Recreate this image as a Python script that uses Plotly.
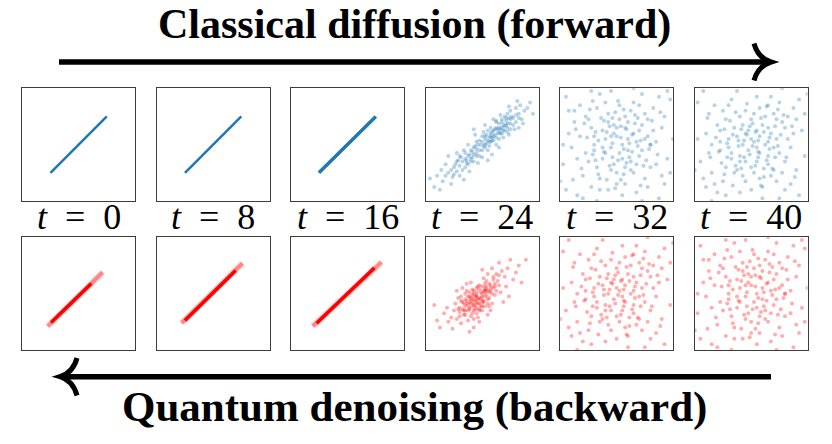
import plotly.graph_objects as go

W, H = 832, 444

# Time step labels
steps = [0, 8, 16, 24, 32, 40]

# Straight line endpoints (x, y) for the early steps, in data units
line_t0 = [(-1.0, -1.0), (1.0, 1.0)]
line_t8 = [(-1.0, -1.0), (1.0, 1.0)]
line_t16 = [(-1.02, -1.0), (1.0, 1.0)]

# Denoised bands (faint outer extent, bright core) for the early steps
red_band_t0 = [(-1.1, -1.16), (0.85, 0.76)]
red_core_t0 = [(-0.98, -1.02), (0.45, 0.36)]
red_band_t8 = [(-1.12, -1.04), (1.04, 1.08)]
red_core_t8 = [(-1.0, -0.95), (0.8, 0.82)]
red_band_t16 = [(-1.24, -1.16), (1.2, 1.12)]
red_core_t16 = [(-1.1, -1.05), (0.95, 0.92)]

# Estimated point clouds
blue_t24 = [
    (-1.2, -1.0), (-0.9, -0.6), (-0.5, -0.7), (-0.3, -0.1), (0.1, 0.2), (0.4, 0.5), (0.7, 0.4), (1.0, 0.9), (1.3, 1.1), (0.2, -0.2),
    (-0.6, -0.3), (-0.1, -0.4), (0.5, 0.8), (0.8, 1.0), (1.1, 0.7), (-1.4, -1.3), (-0.8, -1.1), (0.0, 0.3), (0.3, 0.1), (0.6, 0.2),
    (-0.4, -0.5), (-0.2, 0.1), (0.9, 0.6), (1.2, 1.3), (1.5, 1.2), (-1.0, -0.8), (-0.7, -0.9), (0.1, -0.1), (0.4, 0.3), (0.7, 0.9),
    (-1.6, -1.1), (-1.1, -1.4), (-0.3, -0.6), (0.2, 0.5), (0.5, 0.0), (0.8, 0.5), (1.0, 1.2), (1.4, 0.9), (-0.5, 0.0), (-0.9, -0.3),
    (0.0, -0.2), (0.3, 0.6), (0.6, 0.6), (0.9, 1.1), (1.2, 0.8), (-1.3, -0.7), (-0.6, -0.8), (-0.2, -0.3), (0.15, 0.05), (0.45, 0.35),
    (0.75, 0.7), (1.05, 1.0), (1.35, 1.4), (-0.75, -0.45), (-0.35, -0.25), (0.05, 0.45), (0.35, 0.15), (0.65, 1.05), (0.95, 0.35), (-1.05, -1.15),
    (-0.15, -0.65), (0.25, 0.25), (0.55, 0.55), (0.85, 0.85), (1.15, 0.55), (-1.45, -0.9), (-0.85, -0.55), (-0.45, -0.95), (0.1, 0.7), (0.6, -0.1),
    (1.6, 1.3), (1.25, 1.55), (-1.7, -1.5), (-0.25, 0.35), (0.4, 0.9), (0.75, 0.25), (1.45, 0.75), (-1.2, -0.4), (-0.65, -1.25), (0.2, -0.55),
    (-0.05, 0.0), (0.3, 0.4), (0.5, 0.25), (0.7, 0.6), (-0.4, -0.2), (-0.1, 0.15), (0.85, 0.95), (1.0, 0.55), (-0.8, -0.75), (0.0, -0.45),
    (1.7, 1.5), (-1.5, -1.6), (0.35, -0.35), (-0.3, 0.55), (0.95, 1.35), (1.3, 0.6), (-1.85, -1.2), (1.8, 1.1), (-0.55, -0.55), (0.65, 0.4),
    (-0.5, -0.4), (-0.2, -0.15), (0.1, 0.0), (0.35, 0.45), (0.6, 0.45), (0.9, 0.75), (-0.7, -0.6), (-0.35, -0.45), (0.0, 0.1), (0.25, 0.1),
    (0.5, 0.6), (0.8, 0.65), (1.1, 0.95), (-0.9, -0.95), (-0.6, -0.5), (-0.25, -0.05), (0.15, 0.35), (0.4, 0.15), (0.7, 0.8), (1.0, 0.75),
    (-1.1, -0.9), (-0.8, -0.4), (-0.45, -0.35), (-0.1, -0.2), (0.2, 0.15), (0.45, 0.55), (0.75, 0.5), (1.2, 1.05), (-1.3, -1.1), (-0.3, -0.35),
    (0.05, -0.05), (0.3, 0.3), (0.55, 0.4), (0.85, 0.7), (-0.55, -0.65), (-0.15, 0.0), (0.6, 0.75), (0.95, 0.95), (-0.95, -0.7), (0.35, 0.25),
    (1.3, 0.95), (-1.0, -1.05), (0.1, 0.3), (-0.4, -0.6), (0.65, 0.55), (-0.2, -0.4), (0.9, 0.45), (0.5, 0.85), (-0.65, -0.2), (0.25, -0.05),
]

red_t24 = [
    (-0.2, -0.1), (-0.5, -0.4), (0.1, 0.2), (-0.8, -0.5), (0.3, 0.1), (-0.3, -0.6), (0.0, -0.3), (-0.6, 0.0), (0.4, 0.5), (-0.1, 0.3),
    (-0.9, -0.9), (0.6, 0.3), (-0.4, -0.2), (0.2, -0.2), (-0.7, -0.3), (0.5, 0.7), (-0.2, -0.5), (0.1, -0.1), (-1.0, -0.6), (0.8, 0.6),
    (-0.35, 0.15), (-0.05, 0.05), (0.25, 0.35), (-0.65, -0.75), (0.45, -0.05), (-0.15, -0.85), (-0.45, -0.55), (0.05, 0.55), (-0.85, -0.15), (0.65, 0.05),
    (-1.2, -1.0), (0.9, 0.9), (-0.25, -0.25), (0.15, 0.15), (-0.55, -0.25), (0.35, -0.35), (-0.75, -1.05), (0.55, 0.45), (-0.1, -0.6), (0.0, 0.0),
    (-1.35, -0.7), (1.1, 0.5), (-0.3, -0.9), (0.2, 0.7), (-0.6, -0.6), (0.7, 0.8), (-0.95, -0.35), (0.3, -0.6), (-0.4, 0.4), (0.1, -0.45),
    (-1.5, -1.2), (1.3, 1.0), (-0.7, 0.2), (0.4, 0.2), (-0.15, 0.25), (-0.5, -0.95), (0.85, 0.25), (-1.1, -0.85), (0.6, 0.65), (-0.25, -0.4),
    (-0.05, -0.15), (-0.4, -0.35), (0.25, 0.05), (-0.8, -0.8), (0.45, 0.25), (-0.2, 0.05), (-0.6, -0.45), (0.05, -0.3), (-0.35, -0.7), (0.15, 0.45),
    (1.4, 0.4), (-1.7, -0.4), (0.6, 1.1), (-1.05, -1.25), (1.0, 1.2), (-0.9, 0.1), (0.95, -0.1), (-0.3, -1.2), (0.35, 0.9), (-1.25, -0.5),
    (1.55, 1.2), (-0.45, -1.35), (0.75, -0.3), (-1.6, -0.95), (0.0, 0.85), (-0.75, -0.1), (0.2, -0.75), (-0.1, -1.0), (1.2, 0.75), (-0.55, 0.35),
    (0.3, 0.3), (-0.65, -0.6), (-0.2, -0.3), (0.1, 0.1), (-0.45, -0.1), (0.5, 0.1), (-0.85, -0.55), (0.0, -0.6), (-0.3, 0.0), (0.4, 0.6),
    (-0.3, -0.2), (-0.1, -0.35), (-0.45, -0.3), (0.0, -0.1), (-0.2, -0.05), (-0.35, -0.45), (0.1, 0.05), (-0.55, -0.35), (-0.15, -0.2), (0.05, -0.25),
    (-0.4, -0.15), (-0.25, -0.55), (0.2, 0.1), (-0.6, -0.2), (-0.05, -0.45), (-0.3, 0.1), (0.15, -0.05), (-0.5, -0.6), (-0.1, 0.15), (-0.35, -0.3),
    (0.3, 0.2), (-0.7, -0.55), (0.0, 0.25), (-0.2, -0.7), (-0.45, 0.05), (0.25, -0.15), (-0.65, -0.35), (-0.15, -0.35), (0.1, 0.35), (-0.4, -0.8),
    (-0.25, -0.1), (-0.05, -0.2), (-0.5, -0.1), (0.2, -0.35), (-0.3, -0.4), (0.05, 0.1), (-0.75, -0.25), (-0.1, -0.55), (0.35, 0.0), (-0.6, -0.75),
    (-0.2, 0.2), (0.15, 0.25), (-0.35, -0.05), (0.0, -0.45), (-0.45, -0.5), (0.45, 0.35), (-0.8, -0.65), (-0.15, -0.15), (0.25, -0.45), (-0.55, 0.1),
]

noise_t32 = [
    (-1.5, 1.2), (-0.8, 0.3), (0.2, -0.5), (1.1, 0.9), (1.7, -1.4), (-0.3, -1.6), (0.6, 1.5), (-1.9, -0.7), (0.9, -0.2), (-0.1, 0.7),
    (1.4, 0.1), (-1.2, -1.1), (0.4, 0.2), (-0.6, 1.8), (1.9, 1.6), (-1.7, 0.4), (0.0, -1.0), (0.7, -1.7), (-0.4, -0.3), (1.2, -0.8),
    (-1.0, 0.9), (0.3, 1.0), (-0.2, -0.1), (1.6, 0.6), (-1.4, -1.8), (0.8, 0.5), (-0.7, -0.8), (0.1, 1.4), (1.0, -1.2), (-1.8, 1.7),
    (0.5, -0.6), (-0.5, 0.5), (1.3, 1.3), (-1.1, -0.3), (0.2, 0.0), (-0.9, -1.5), (1.8, -0.5), (-0.3, 1.1), (0.6, -1.0), (-1.6, -0.1),
    (0.9, 1.8), (-0.1, -0.7), (1.5, -1.9), (-0.8, 0.0), (0.4, 0.8), (-1.3, 1.4), (0.0, 0.3), (1.1, 0.3), (-0.6, -1.2), (2.0, 0.2),
    (-2.0, -1.3), (0.7, 0.1), (-0.2, 1.9), (1.2, 0.0), (-1.0, -0.6), (0.3, -1.4), (-0.4, 0.2), (0.8, -0.4), (-1.5, 0.8), (0.1, -0.3),
    (1.7, 1.0), (-0.7, 1.3), (0.5, 1.2), (-1.2, -1.9), (0.9, 0.7), (-0.1, 0.4), (1.4, -0.7), (-0.9, 0.6), (0.2, -1.8), (-1.9, 0.0),
    (0.6, 0.4), (-0.5, -0.5), (1.0, 1.1), (-0.3, 0.8), (1.6, -1.1), (-1.4, -0.5), (0.3, 0.6), (-0.8, -0.2), (0.0, -1.4), (1.3, 0.5),
    (-1.1, 1.0), (0.4, -0.2), (-0.6, -1.6), (1.9, -1.0), (-1.7, 1.2), (0.8, 1.4), (-0.2, -0.9), (1.1, -1.5), (-1.3, 0.3), (0.1, 0.9),
    (0.5, -0.9), (-0.4, 1.5), (1.5, 1.7), (-1.8, -1.6), (0.7, -0.7), (-0.9, 1.9), (0.0, 0.6), (1.2, 0.0), (-0.5, -0.1), (0.3, -0.8),
    (-2.1, 0.9), (2.1, -0.3), (0.6, 2.0), (-0.7, -2.0), (1.8, 1.9), (-1.6, -2.1), (0.9, -2.0), (-0.1, 2.1), (1.0, 0.2), (-0.2, 0.3),
    (0.15, 0.25), (-0.35, 0.45), (0.55, -0.25), (-0.65, 0.15), (0.25, -0.15), (-0.15, -0.45), (0.85, 0.15), (-0.45, 0.85), (0.35, 0.55), (-0.85, -0.35),
    (0.05, -0.55), (0.65, 0.75), (-0.25, -0.75), (0.45, -0.45), (-0.55, 0.95), (1.05, -0.55), (-1.05, 0.25), (0.75, -0.05), (-0.05, 1.15), (0.25, -1.05),
    (-0.75, -0.55), (1.25, 0.85), (-1.25, -0.85), (0.95, -0.75), (-0.95, 1.25), (0.15, 0.65), (-0.35, -1.25), (0.55, 0.35), (-0.15, 0.05), (0.35, -0.65),
    (1.45, -0.35), (-1.45, 0.55), (0.65, 1.05), (-0.65, -1.05), (0.05, 1.55), (-0.05, -1.55), (1.55, 1.15), (-1.55, -1.25), (0.45, 0.05), (-0.25, 0.65),
    (0.85, -1.45), (-0.85, 1.55), (1.15, -0.15), (-1.15, 0.75), (0.25, 1.25), (-0.45, -0.25), (0.75, 0.95), (-0.75, 0.45), (0.15, -1.25), (-0.15, 0.95),
]

noise_t40 = [
    (0.3, 1.3), (-1.1, 0.5), (0.8, -0.9), (-0.4, -0.4), (1.5, 0.4), (-1.7, -1.2), (0.1, 0.1), (-0.7, 1.6), (1.2, -1.6), (-0.2, -1.3),
    (1.9, 1.1), (-1.4, 0.0), (0.6, 0.6), (-0.9, -0.8), (0.0, 0.9), (1.0, -0.3), (-1.9, 1.5), (0.4, -1.9), (-0.5, 0.3), (1.6, -0.9),
    (-0.3, 0.7), (0.7, 1.7), (-1.2, -1.7), (1.3, 1.0), (-0.8, -0.1), (0.2, -0.6), (-1.5, 1.1), (0.9, 0.2), (-0.1, -0.2), (1.7, -1.8),
    (-1.0, 1.2), (0.5, 0.0), (-0.6, -1.0), (1.1, 0.8), (-1.8, -0.6), (0.3, -1.2), (-0.2, 1.2), (1.4, -0.1), (-1.3, -1.4), (0.8, 1.1),
    (0.0, -0.8), (-0.9, 0.9), (1.8, 0.5), (-0.4, -1.7), (0.6, -0.4), (-1.6, 0.4), (0.2, 0.5), (1.0, 1.5), (-0.7, -0.5), (0.4, -1.5),
    (-1.1, -0.2), (1.2, -0.6), (-0.3, 0.0), (0.7, 0.4), (-2.0, -0.9), (2.0, 1.8), (-0.5, 1.9), (0.9, -1.3), (-1.2, 0.7), (0.1, -1.0),
    (1.5, 1.3), (-0.8, 0.2), (0.3, 0.3), (-0.1, 0.5), (1.1, -1.0), (-1.4, -1.0), (0.5, 1.0), (-0.6, 0.6), (1.9, -0.4), (-1.7, 1.9),
    (0.0, -1.6), (0.8, -0.1), (-1.0, -1.3), (1.3, 0.2), (-0.4, 1.0), (0.6, -0.7), (-1.5, -0.3), (0.2, 1.7), (1.6, 0.9), (-0.9, -1.8),
    (-0.2, -0.6), (0.4, 0.7), (1.0, -1.9), (-1.3, 1.4), (0.7, -1.1), (-0.7, -0.3), (0.1, 1.1), (1.4, -1.4), (-1.9, 0.2), (0.9, 0.9),
    (-0.5, -0.9), (0.3, -0.3), (1.7, 1.6), (-1.1, 0.1), (0.6, 1.4), (-0.3, -1.1), (1.2, 0.6), (-0.8, 1.4), (0.0, 0.2), (-1.6, -1.5),
    (2.1, 0.0), (-2.1, -1.8), (-0.6, 2.1), (1.1, 2.0), (0.5, -2.1), (-1.4, -2.0), (0.2, -0.1), (-0.2, 0.4), (0.6, 0.1), (-0.4, -0.6),
    (-0.15, 0.35), (0.25, -0.25), (-0.45, 0.15), (0.45, 0.45), (-0.25, -0.45), (0.05, 0.75), (0.65, -0.15), (-0.65, 0.35), (0.35, 0.95), (-0.85, -0.45),
    (0.15, -0.75), (0.85, 0.65), (-0.35, -0.85), (0.55, -0.55), (-0.55, 1.15), (1.05, 0.35), (-1.05, -0.65), (0.75, -0.85), (-0.05, -0.35), (0.25, 0.15),
    (-0.75, 0.85), (1.25, -0.45), (-1.25, 0.25), (0.95, 1.25), (-0.95, -1.05), (0.45, -1.15), (-0.15, 1.45), (0.05, -0.05), (-0.35, 0.55), (0.65, 0.25),
    (1.45, 0.65), (-1.45, -0.45), (0.35, -1.45), (-0.65, -1.45), (1.55, -1.15), (-1.55, 0.95), (0.15, 0.45), (-0.25, 0.15), (0.85, -0.45), (-0.85, 0.05),
    (1.15, 1.05), (-1.15, -0.25), (0.55, 1.35), (-0.45, -0.05), (0.95, -0.05), (-0.95, 0.55), (0.25, -0.45), (-0.05, 0.65), (0.45, -0.85), (-0.55, -0.75),
]

BLUE = "#1f77b4"
RED = "#ff0000"
SERIF = "Liberation Serif, Times New Roman, serif"

fig = go.Figure()


def xs(pts):
    return [p[0] for p in pts]


def ys(pts):
    return [p[1] for p in pts]


def add_line(pts, n, color, width):
    fig.add_trace(go.Scatter(x=xs(pts), y=ys(pts), mode="lines",
                             line=dict(color=color, width=width),
                             xaxis=f"x{n}", yaxis=f"y{n}", showlegend=False))


def add_cloud(pts, n, color):
    fig.add_trace(go.Scatter(x=xs(pts), y=ys(pts), mode="markers",
                             marker=dict(color=color, size=4, opacity=0.32, line=dict(width=0)),
                             xaxis=f"x{n}", yaxis=f"y{n}", showlegend=False))


# top row: forward diffusion (blue)
add_line(line_t0, 1, BLUE, 2.5)
add_line(line_t8, 2, BLUE, 2.5)
add_line(line_t16, 3, BLUE, 3.5)
add_cloud(blue_t24, 4, BLUE)
add_cloud(noise_t32, 5, BLUE)
add_cloud(noise_t40, 6, BLUE)

# bottom row: quantum denoising (red)
for n, band, core in [(7, red_band_t0, red_core_t0), (8, red_band_t8, red_core_t8),
                      (9, red_band_t16, red_core_t16)]:
    add_line(band, n, "rgba(255,0,0,0.12)", 7)
    add_line(band, n, "rgba(255,0,0,0.4)", 4)
    add_line(core, n, RED, 3.5)
add_cloud(red_t24, 10, RED)
add_cloud(noise_t40, 11, RED)
add_cloud(noise_t32, 12, RED)

# panel geometry in pixels
left0, step, size = 22.3, 134.5, 112.7
row_top = [88.3, 237.3]

axes = {}
for i in range(12):
    r, c = divmod(i, 6)
    n = i + 1
    x0 = left0 + c * step
    y0 = row_top[r]
    common = dict(range=[-2, 2], showticklabels=False, showgrid=False, zeroline=False,
                  showline=True, mirror=True, linecolor="#3c3c3c", linewidth=1.3,
                  ticks="", fixedrange=True)
    axes[f"xaxis{n}"] = dict(common, domain=[x0 / W, (x0 + size) / W], anchor=f"y{n}")
    axes[f"yaxis{n}"] = dict(common, domain=[1 - (y0 + size) / H, 1 - y0 / H], anchor=f"x{n}")

fig.update_layout(**axes)


def pp(x, y):
    return f"{x / W:.5f},{1 - y / H:.5f}"


shapes = [
    # forward arrow
    dict(type="line", xref="paper", yref="paper", x0=59 / W, x1=767 / W,
         y0=1 - 62 / H, y1=1 - 62 / H, line=dict(color="black", width=5.5)),
    dict(type="path", xref="paper", yref="paper",
         path=f"M {pp(754, 43.5)} Q {pp(758, 58)} {pp(771, 62)} Q {pp(758, 66)} {pp(754, 80.5)}",
         line=dict(color="black", width=5)),
    # backward arrow
    dict(type="line", xref="paper", yref="paper", x0=63 / W, x1=771 / W,
         y0=1 - 376.7 / H, y1=1 - 376.7 / H, line=dict(color="black", width=5.5)),
    dict(type="path", xref="paper", yref="paper",
         path=f"M {pp(77, 358)} Q {pp(73, 372.7)} {pp(60, 376.7)} Q {pp(73, 380.7)} {pp(77, 395.5)}",
         line=dict(color="black", width=5)),
]

annotations = [
    dict(text="<b>Classical diffusion (forward)</b>", x=414 / W, y=1 - 24.5 / H,
         xref="paper", yref="paper", showarrow=False, xanchor="center", yanchor="middle",
         font=dict(family=SERIF, size=42, color="black")),
    dict(text="<b>Quantum denoising (backward)</b>", x=414 / W, y=1 - 407 / H,
         xref="paper", yref="paper", showarrow=False, xanchor="center", yanchor="middle",
         font=dict(family=SERIF, size=43, color="black")),
]
for c, t in enumerate(steps):
    cx = left0 + c * step + size / 2
    annotations.append(dict(text=f"<i>t</i>\u2002=\u2002{t}", x=cx / W, y=1 - 217 / H,
                            xref="paper", yref="paper", showarrow=False,
                            xanchor="center", yanchor="middle",
                            font=dict(family=SERIF, size=36, color="black")))

fig.update_layout(width=W, height=H, margin=dict(l=0, r=0, t=0, b=0),
                  paper_bgcolor="white", plot_bgcolor="white",
                  shapes=shapes, annotations=annotations, showlegend=False)

# drop the default page margin so the figure sits at the window origin
fig.write_html("out.html", config={"displayModeBar": False},
               post_script="document.body.style.margin = '0';")
